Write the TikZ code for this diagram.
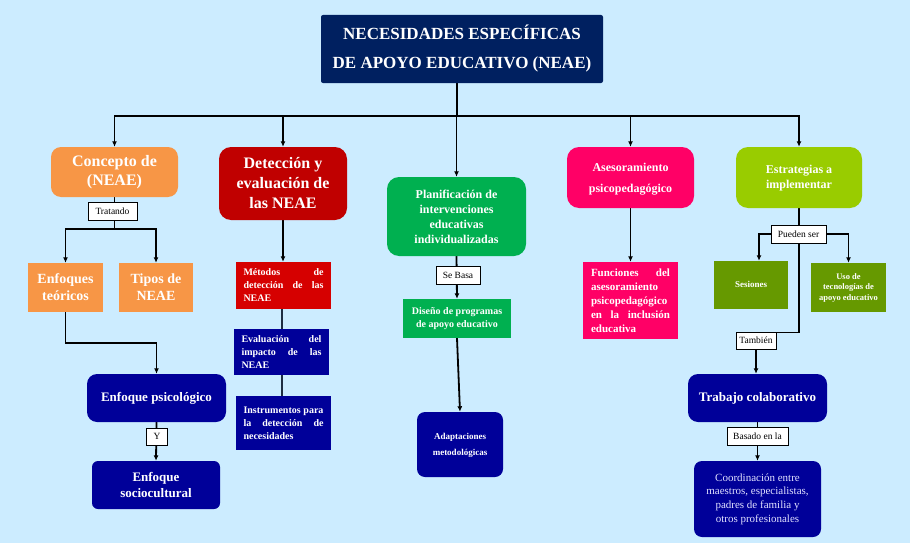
\documentclass[tikz,border=0pt]{standalone}
\usepackage{fontspec}
\setmainfont{Liberation Serif}
\usetikzlibrary{arrows.meta}
\definecolor{bgc}{RGB}{204,236,255}
\definecolor{titlec}{RGB}{0,32,96}
\definecolor{orangec}{RGB}{247,150,70}
\definecolor{dredc}{RGB}{192,0,0}
\definecolor{redc}{RGB}{214,0,0}
\definecolor{greenc}{RGB}{0,176,80}
\definecolor{pinkc}{RGB}{255,0,102}
\definecolor{limec}{RGB}{153,204,0}
\definecolor{olivec}{RGB}{102,153,0}
\definecolor{navyc}{RGB}{0,0,153}
\definecolor{lavc}{RGB}{225,225,255}
\definecolor{slatec}{RGB}{30,45,65}
\newcommand\myup[2]{\raisebox{#1}{\begin{tabular}{@{}c@{}}#2\end{tabular}}}
\pgfdeclarelayer{bglayer}
\pgfdeclarelayer{lineslayer}
\pgfsetlayers{bglayer,lineslayer,main}
\tikzset{
  box/.style={draw=none, text=white, align=center, inner sep=1pt},
  jbox/.style={box, align=left, text width=80pt, inner xsep=7.5pt, inner ysep=1pt,
    font=\bfseries\fontsize{10}{13}\selectfont},
  lbl/.style={draw=black, fill=white, line width=0.9pt, text=black, inner sep=0pt,
    font=\fontsize{9.5}{10}\selectfont},
  ln/.style={draw=black, line width=1.8pt},
  arr/.style={ln, -{Latex[length=5.5pt,width=5pt]}},
  dl/.style={draw=slatec, line width=2pt}
}
\begin{document}
\begin{tikzpicture}[x=1pt,y=-1pt]
\begin{pgfonlayer}{bglayer}
\fill[bgc] (0,0) rectangle (910,543);
\end{pgfonlayer}
\useasboundingbox (0,0) rectangle (910,543);

% title
\node[box, fill=titlec, rounded corners=2pt, minimum width=282, minimum height=68,
  font=\bfseries\fontsize{17}{29}\selectfont] (title) at (462,49)
  {NECESIDADES ESPECÍFICAS\\DE APOYO EDUCATIVO (NEAE)};

% column 1
\node[box, fill=orangec, rounded corners=10pt, minimum width=127, minimum height=50,
  font=\bfseries\fontsize{16}{19}\selectfont] (concepto) at (114.5,172) {Concepto de\\(NEAE)};
\node[lbl, minimum width=49, minimum height=18] (tratando) at (112.5,211) {Tratando};
\node[box, fill=orangec, minimum width=75, minimum height=49,
  font=\bfseries\fontsize{14}{17}\selectfont] (enfoques) at (65.5,287.5) {Enfoques\\teóricos};
\node[box, fill=orangec, minimum width=74, minimum height=49,
  font=\bfseries\fontsize{14}{17}\selectfont] (tipos) at (156,287.5) {Tipos de\\NEAE};
\node[box, fill=navyc, rounded corners=10pt, minimum width=139, minimum height=48,
  font=\bfseries\fontsize{13}{16}\selectfont] (psico) at (156.5,398) {Enfoque psicológico};
\node[lbl, minimum width=21, minimum height=17] (yy) at (157,436.5) {Y};
\node[box, fill=navyc, rounded corners=6pt, minimum width=128, minimum height=48,
  font=\bfseries\fontsize{13}{16}\selectfont] (socio) at (156,485) {Enfoque\\sociocultural};

% column 2
\node[box, fill=dredc, rounded corners=12pt, minimum width=128, minimum height=73,
  font=\bfseries\fontsize{16}{20}\selectfont] (deteccion) at (283,183.5)
  {Detección y\\evaluación de\\las NEAE};
\node[jbox, fill=redc, minimum height=47] (metodos) at (283.5,285.5)
  {Métodos\hfill de\\detección\hfill de\hfill las\\NEAE};
\node[jbox, fill=navyc, minimum height=46] (evaluacion) at (281.5,352)
  {Evaluación\hfill del\\impacto\hfill de\hfill las\\NEAE};
\node[jbox, fill=navyc, minimum height=54] (instrumentos) at (283.5,423)
  {Instrumentos\hfill para\\la\hfill detección\hfill de\\necesidades};

% column 3
\node[box, fill=greenc, rounded corners=12pt, minimum width=139, minimum height=79,
  font=\bfseries\fontsize{12}{15}\selectfont] (planif) at (456.5,216.5)
  {Planificación de\\intervenciones\\educativas\\individualizadas};
\node[lbl, minimum width=44, minimum height=18] (sebasa) at (458,275) {Se Basa};
\node[box, fill=greenc, minimum width=108, minimum height=39,
  font=\bfseries\fontsize{10}{13}\selectfont] (diseno) at (457,318.5)
  {Diseño de programas\\de apoyo educativo};
\node[box, fill=navyc, rounded corners=8pt, minimum width=86, minimum height=65,
  font=\bfseries\fontsize{9}{16}\selectfont] (adapt) at (460,444.5)
  {\myup{5pt}{Adaptaciones\\metodológicas}};

% column 4
\node[box, fill=pinkc, rounded corners=12pt, minimum width=127, minimum height=61,
  font=\bfseries\fontsize{12}{21}\selectfont] (asesor) at (630.5,177.5)
  {\myup{3pt}{Asesoramiento\\psicopedagógico}};
\node[jbox, fill=pinkc, minimum height=77, text width=79pt, inner xsep=8pt,
  font=\bfseries\fontsize{11}{14}\selectfont] (funciones) at (630.5,300.5)
  {Funciones\hfill del\\asesoramiento\\psicopedagógico\\en\hfill la\hfill inclusión\\educativa};

% column 5
\node[box, fill=limec, rounded corners=12pt, minimum width=126, minimum height=61,
  font=\bfseries\fontsize{12}{15}\selectfont] (estrategias) at (799,177.5)
  {\myup{6pt}{Estrategias a\\implementar}};
\node[lbl, minimum width=55, minimum height=18] (pueden) at (798.5,234) {Pueden ser};
\node[box, fill=olivec, minimum width=74, minimum height=48,
  font=\bfseries\fontsize{9}{11}\selectfont] (sesiones) at (751,285) {\myup{3pt}{Sesiones}};
\node[box, fill=olivec, minimum width=75, minimum height=49,
  font=\bfseries\fontsize{8.5}{10.5}\selectfont] (uso) at (848.5,287.5)
  {Uso de\\tecnologías de\\apoyo educativo};
\node[lbl, minimum width=40, minimum height=17] (tambien) at (756,340.5) {También};
\node[box, fill=navyc, rounded corners=10pt, minimum width=139, minimum height=48,
  font=\bfseries\fontsize{13}{16}\selectfont] (trabajo) at (757.5,398) {Trabajo colaborativo};
\node[lbl, minimum width=61, minimum height=18] (basado) at (757.5,436) {Basado en la};
\node[box, fill=navyc, rounded corners=8pt, minimum width=127, minimum height=76, text=lavc,
  font=\fontsize{11}{13.7}\selectfont] (coord) at (757.5,499)
  {\myup{3pt}{Coordinación entre\\maestros, especialistas,\\padres de familia y\\otros profesionales}};

% connectors
\begin{pgfonlayer}{lineslayer}
\coordinate (hub) at (457,116);
\coordinate (tsplit) at (114.5,229);
\draw[ln] (title.south -| hub) -- (hub);
\draw[ln, line cap=rect] (hub -| concepto.north) -- (hub -| estrategias.north);
\foreach \n in {concepto,deteccion,planif,asesor,estrategias}
  \draw[arr] (hub -| \n.north) -- (\n.north);
\draw[ln] (concepto.south) -- (tsplit);
\draw[arr] (tsplit) -| (enfoques.north);
\draw[arr] (tsplit) -| (tipos.north);
\draw[arr] (enfoques.south) -- ++(0,31) -| (psico.north);
\draw[arr] (psico.south) -- (socio.north);
\draw[arr] (deteccion.south) -- (deteccion.south |- metodos.north);
\draw[dl] (metodos.south -| evaluacion.north) -- (evaluacion.north);
\draw[dl] (evaluacion.south) -- (evaluacion.south |- instrumentos.north);
\draw[arr] (planif.south) -- (diseno.north);
\draw[arr] (diseno.south) -- (adapt.north);
\draw[arr] (asesor.south) -- (funciones.north);
\draw[ln] (estrategias.south) |- ([yshift=-1pt]tambien.north east);
\draw[arr] (pueden.west) -| ([xshift=8pt]sesiones.north);
\draw[arr] (pueden.east) -| (uso.north);
\draw[arr] (tambien.south) -- (tambien.south |- trabajo.north);
\draw[arr] (trabajo.south) -- (coord.north);
\end{pgfonlayer}
\end{tikzpicture}
\end{document}
